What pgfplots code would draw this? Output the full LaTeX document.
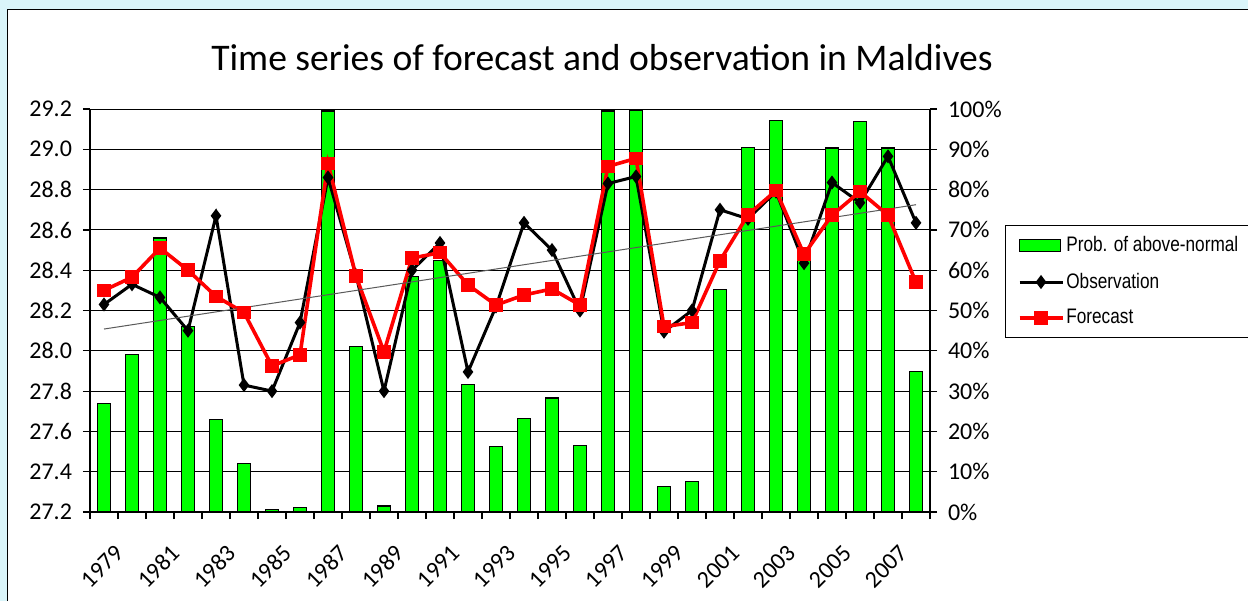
\documentclass[border=0pt]{standalone}
\usepackage{fontspec}
\setmainfont{Carlito}
\newfontfamily\legfont[FakeStretch=0.82]{Liberation Sans}
\usepackage{pgfplots}
\pgfplotsset{compat=1.18}
\definecolor{barg}{RGB}{0,255,0}
\definecolor{cyanbg}{RGB}{218,245,250}
\definecolor{trendgray}{RGB}{90,90,90}

\pgfplotstableread{
year prob obs fc
1979 27.0 28.230 28.300
1980 39.0 28.330 28.365
1981 68.0 28.265 28.510
1982 46.0 28.100 28.400
1983 23.0 28.670 28.270
1984 12.0 27.830 28.190
1985 0.7 27.800 27.925
1986 1.2 28.140 27.980
1987 99.5 28.860 28.930
1988 41.0 28.375 28.370
1989 1.5 27.800 27.995
1990 58.5 28.400 28.460
1991 62.5 28.535 28.487
1992 31.7 27.895 28.327
1993 16.3 28.220 28.227
1994 23.2 28.635 28.277
1995 28.3 28.500 28.307
1996 16.6 28.200 28.227
1997 99.5 28.830 28.915
1998 99.7 28.865 28.955
1999 6.4 28.095 28.120
2000 7.6 28.200 28.140
2001 55.3 28.700 28.447
2002 90.5 28.655 28.675
2003 97.2 28.790 28.795
2004 62.5 28.435 28.479
2005 90.3 28.835 28.673
2006 96.9 28.735 28.790
2007 90.3 28.965 28.673
2008 34.8 28.635 28.340
}\datatable

\pgfplotsset{
  lineleg/.style={legend image code/.code={\draw[##1, mark repeat=2, mark phase=2] plot coordinates {(0pt,0pt) (10.75pt,0pt) (21.5pt,0pt)};}},
  barleg/.style={legend image code/.code={\draw[##1] (0pt,-3pt) rectangle (20.5pt,3pt);}},
}

\begin{document}
\begin{tikzpicture}
\useasboundingbox (-45pt,-44.5pt) rectangle (579pt,256pt);
\fill[white] (-45pt,-44.5pt) rectangle (579pt,256pt);
\fill[cyanbg] (-45pt,251.35pt) rectangle (579pt,256pt);
\fill[cyanbg] (-45pt,-44.5pt) rectangle (-41.35pt,256pt);
\draw[black, line width=0.7pt] (-41.35pt,-44.5pt) -- (-41.35pt,251.35pt) -- (579pt,251.35pt);

\node[font=\fontsize{18.8}{23}\selectfont] at (256pt,227pt) {Time series of forecast and observation in Maldives};

% bars, right axis
\begin{axis}[
  at={(0pt,0pt)}, anchor=south west, scale only axis,
  width=420pt, height=201.5pt,
  xmin=1978.5, xmax=2008.5,
  ymin=0, ymax=100,
  axis y line*=right, axis x line*=bottom,
  axis line style={black, line width=0.6pt},
  tick align=outside,
  xtick={1979,1981,...,2007},
  xticklabels={1979,1981,1983,1985,1987,1989,1991,1993,1995,1997,1999,2001,2003,2005,2007},
  major x tick style={draw=none},
  minor xtick={1978.5,1979.5,...,2008.5},
  minor x tick style={black, line width=0.6pt},
  minor tick length=3.5pt,
  major tick length=3.5pt,
  xticklabel style={rotate=45, anchor=north east, font=\fontsize{12}{14}\selectfont, inner sep=1pt, xshift=-4pt, yshift=-11pt},
  ytick={0,10,...,100},
  yticklabels={0\%,10\%,20\%,30\%,40\%,50\%,60\%,70\%,80\%,90\%,100\%},
  yticklabel style={font=\fontsize{12}{14}\selectfont, xshift=2pt},
  y tick style={black, line width=0.6pt},
  ymajorgrids,
  grid style={black, line width=0.5pt},
  clip=false,
]
\addplot[ybar, bar width=6.2pt, fill=barg, draw=black, line width=0.6pt] table[x=year, y=prob] {\datatable};
\end{axis}

% lines, left axis
\begin{axis}[
  at={(0pt,0pt)}, anchor=south west, scale only axis,
  width=420pt, height=201.5pt,
  xmin=1978.5, xmax=2008.5,
  ymin=27.2, ymax=29.2,
  axis y line*=left, axis x line=none,
  axis line style={black, line width=0.6pt},
  tick align=outside,
  major tick length=3.5pt,
  ytick={27.2,27.4,...,29.2},
  yticklabels={27.2,27.4,27.6,27.8,28.0,28.2,28.4,28.6,28.8,29.0,29.2},
  yticklabel style={font=\fontsize{12}{14}\selectfont, xshift=-2pt},
  y tick style={black, line width=0.6pt},
  legend style={at={(1.0893,0.7122)}, anchor=north west, draw=black, line width=0.7pt,
    font=\legfont\fontsize{10.5}{12}\selectfont, row sep=5pt,
    inner xsep=6pt, inner ysep=3.5pt,
    nodes={inner xsep=1pt}},
  legend cell align=left,
]
\addlegendimage{barleg, fill=barg, draw=black, line width=0.6pt}
\addlegendentry{\makebox[96pt][l]{Prob. of above-normal}}
\addplot[black, line width=1.5pt, mark=diamond*, mark size=2.3pt, lineleg] table[x=year, y=obs] {\datatable};
\addlegendentry{Observation}
\addplot[red, line width=1.8pt, mark=square*, mark size=2.5pt, lineleg] table[x=year, y=fc] {\datatable};
\addlegendentry{Forecast}
\addplot[trendgray, line width=0.5pt, forget plot] coordinates {(1979,28.108) (2008,28.725)};
\end{axis}
\end{tikzpicture}
\end{document}
